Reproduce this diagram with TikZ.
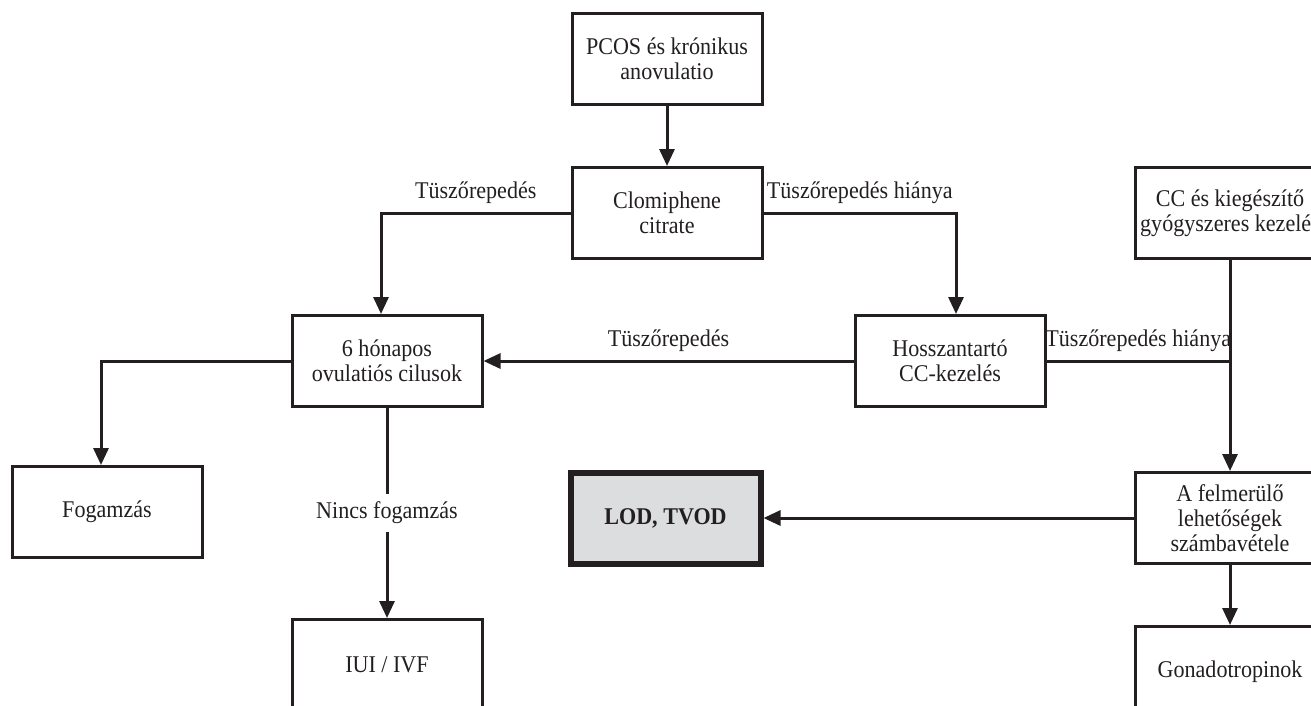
\documentclass[tikz,border=0pt]{standalone}
\usepackage{fontspec}
\setmainfont{Liberation Serif}[FakeStretch=0.92]
\usepackage{tikz}
\usetikzlibrary{arrows.meta,positioning,calc}
\definecolor{inkdark}{HTML}{231F20}
\definecolor{softgray}{HTML}{DCDDDF}

\begin{document}
\begin{tikzpicture}[
      x=1pt,y=-1pt,color=inkdark,
      >={Triangle[length=17pt,width=15pt]},
      node distance=60pt and 90pt,
      font=\fontsize{24}{25}\selectfont,
      box/.style={draw=inkdark,fill=white,line width=3pt,
                  minimum width=190pt,minimum height=91pt,align=center,inner sep=4pt},
      lod/.style={box,line width=6pt,fill=softgray,font=\fontsize{24}{25}\selectfont\bfseries},
      lbl/.style={above=5pt,inner sep=3pt},
      line/.style={draw=inkdark,line width=3pt},
      link/.style={line,->}
    ]
    \path[use as bounding box,clip] (0,0) rectangle (1311,705);
    \node[box] (pcos) at (667,59) {PCOS és krónikus\\anovulatio};
    \node[box,below=of pcos] (clomi) {Clomiphene\\citrate};
    \node[box,right=370pt of clomi] (cc) {CC és kiegészítő\\gyógyszeres kezelés};
    \node[box] (ovul) at (387,361) {6 hónapos\\ovulatiós cilusok};
    \node[box,right=370pt of ovul] (hossz) {Hosszantartó\\CC-kezelés};
    \node[box] (fogam) at (107,512) {Fogamzás};
    \node[box,below=211pt of cc] (felm) {A felmerülő\\lehetőségek\\számbavétele};
    \node[lod,left=370pt of felm] (lod) {LOD, TVOD};
    \node[box,below=210pt of ovul] (iui) {IUI / IVF};
    \node[box,below=of felm] (gonad) {Gonadotropinok};
    \draw[link] (pcos) -- (clomi);
    \draw[link] (clomi.west) -| node[lbl,pos=0.25] {Tüszőrepedés} ([xshift=-6pt]ovul.north);
    \draw[link] (clomi.east) -| node[lbl,pos=0.25] {Tüszőrepedés hiánya} ([xshift=6pt]hossz.north);
    \draw[link] (hossz) -- node[lbl] {Tüszőrepedés} (ovul);
    \draw[link] (ovul.west) -| ([xshift=-6pt]fogam.north);
    \draw[link] (ovul) -- node[fill=white,inner sep=8pt] {Nincs fogamzás} (iui);
    \coordinate (merge) at (cc.south |- hossz.east);
    \draw[line] (hossz.east) -- node[lbl] {Tüszőrepedés hiánya} (merge);
    \draw[link] (cc) -- (felm);
    \draw[link] (felm) -- (lod);
    \draw[link] (felm) -- (gonad);
\end{tikzpicture}
\end{document}
